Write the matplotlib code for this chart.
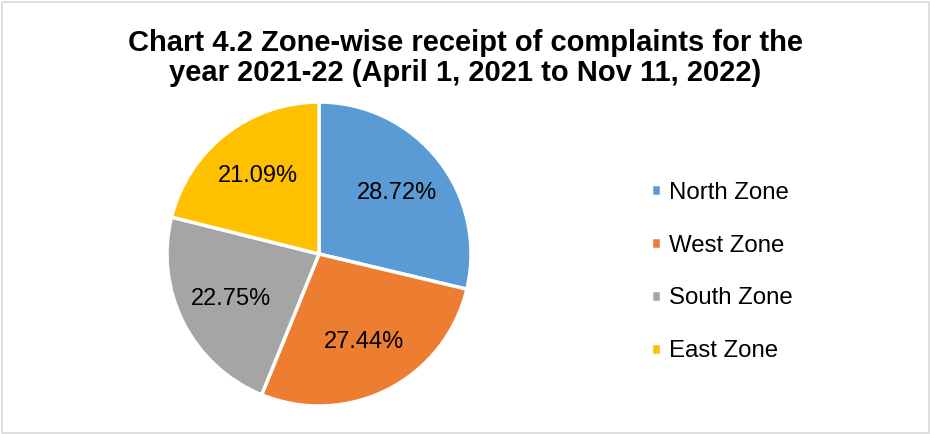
import matplotlib.pyplot as plt
from matplotlib.patches import Rectangle

plt.rcParams['font.family'] = ['Liberation Sans', 'DejaVu Sans']

zones = ["North Zone", "West Zone", "South Zone", "East Zone"]
shares = [28.72, 27.44, 22.75, 21.09]
colors = ["#5b9bd5", "#ed7d31", "#a5a5a5", "#ffc000"]

W, H = 930, 434
fig = plt.figure(figsize=(W / 100, H / 100), dpi=100)

# pie axes: centre and radius in pixels
cx, cy, r = 319, 254, 152
ax = fig.add_axes([(cx - r) / W, 1 - (cy + r) / H, 2 * r / W, 2 * r / H])
wedges, texts, autotexts = ax.pie(
    shares, colors=colors, startangle=90, counterclock=False,
    autopct=lambda p: f"{p:.2f}%", pctdistance=0.65,
    wedgeprops=dict(edgecolor="white", linewidth=2.5),
    textprops=dict(fontsize=17, color="#000000"))
ax.set_xlim(-1, 1)
ax.set_ylim(-1, 1)
ax.set_aspect("equal")

fig.text(0.5, 1 - 58 / H, "Chart 4.2 Zone-wise receipt of complaints for the\n"
         "year 2021-22 (April 1, 2021 to Nov 11, 2022)",
         ha="center", va="center", fontsize=21, fontweight="bold",
         linespacing=1.05)

leg = fig.legend(wedges, zones, loc="center left",
                 bbox_to_anchor=(629 / W, 1 - 272 / H),
                 frameon=False, fontsize=17.3, handlelength=0.42,
                 handleheight=0.42, handletextpad=0.33, labelspacing=1.29)

fig.patches.append(Rectangle((1.5 / W, 1.5 / H), 1 - 3 / W, 1 - 3 / H,
                             transform=fig.transFigure, fill=False,
                             edgecolor="#d9d9d9", linewidth=1.2))

plt.savefig("out.png", dpi=100)
